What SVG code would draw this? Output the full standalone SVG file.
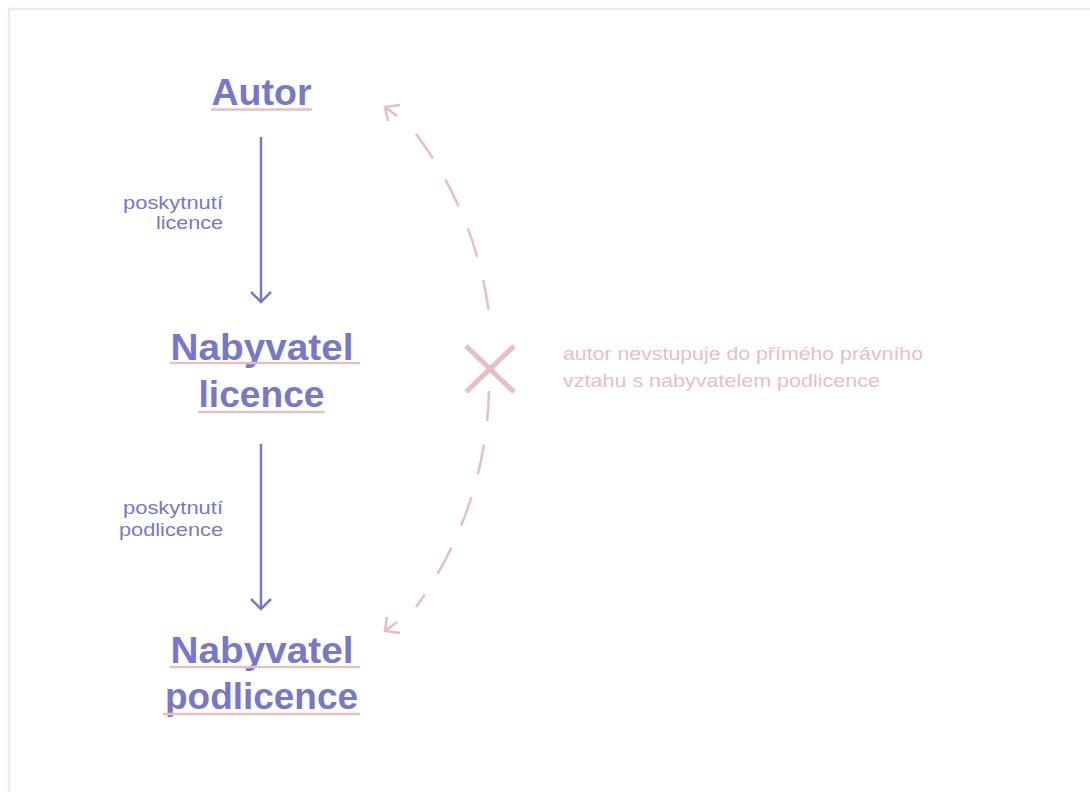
<svg xmlns="http://www.w3.org/2000/svg" width="1090" height="792" viewBox="0 0 1090 792">
<defs>
<style>
.title{font-family:"Liberation Sans",Arial,sans-serif;font-weight:bold;font-size:36px;fill:#7878c6;text-anchor:middle}
.lbl{font-family:"Liberation Sans",Arial,sans-serif;font-size:18.5px;fill:#7878c6;text-anchor:end}
.note{font-family:"Liberation Sans",Arial,sans-serif;font-size:18.5px;fill:#e6c0c4}
.ul{stroke:#e4bfc3;stroke-width:2.5;fill:none}
.conn{stroke:#7878c6;stroke-width:2.5;fill:none}
.dash{stroke:#e4bfc3;stroke-width:2.5;fill:none;stroke-dasharray:30 24}
.head{stroke:#e4bfc3;stroke-width:2.5;fill:none}
</style>
</defs>
<rect width="1090" height="792" fill="#ffffff"/>
<path d="M9 800 V9 H1100" stroke="#ebe9f8" stroke-width="2.5" fill="none"/>

<g id="autor">
<text class="title" x="261.5" y="105" textLength="100" lengthAdjust="spacingAndGlyphs">Autor</text>
<line class="ul" x1="211" y1="109.5" x2="312" y2="109.5"/>
</g>

<g id="nabyvatel-licence">
<text class="title" x="262" y="360" textLength="183" lengthAdjust="spacingAndGlyphs">Nabyvatel</text>
<line class="ul" x1="170" y1="363" x2="360" y2="363"/>
<text class="title" x="261.5" y="407" textLength="126" lengthAdjust="spacingAndGlyphs">licence</text>
<line class="ul" x1="198" y1="412" x2="325" y2="412"/>
</g>

<g id="nabyvatel-podlicence">
<text class="title" x="262" y="663" textLength="183" lengthAdjust="spacingAndGlyphs">Nabyvatel</text>
<line class="ul" x1="170" y1="667" x2="360" y2="667"/>
<text class="title" x="261.5" y="709" textLength="193" lengthAdjust="spacingAndGlyphs">podlicence</text>
<line class="ul" x1="163" y1="714" x2="360" y2="714"/>
</g>

<g id="connectors">
<line class="conn" x1="261" y1="137" x2="261" y2="302"/>
<polyline class="conn" points="251,292 261,302 271,292"/>
<line class="conn" x1="261" y1="444" x2="261" y2="609"/>
<polyline class="conn" points="251,599 261,609 271,599"/>
<text class="lbl" x="223" y="209" textLength="100" lengthAdjust="spacingAndGlyphs">poskytnutí</text>
<text class="lbl" x="223" y="229" textLength="67" lengthAdjust="spacingAndGlyphs">licence</text>
<text class="lbl" x="223" y="514" textLength="100" lengthAdjust="spacingAndGlyphs">poskytnutí</text>
<text class="lbl" x="223" y="536" textLength="104" lengthAdjust="spacingAndGlyphs">podlicence</text>

<path class="dash" d="M416 134 A382 382 0 0 1 489 313"/>
<path class="dash" d="M489 391 A382 382 0 0 1 416 607"/>
<path class="head" d="M400 105 L385 107 L388 121 M385 107 L397 116"/>
<path class="head" d="M400 633 L385 631 L387 617 M385 631 L397 622"/>
<g id="cross">
<line x1="466" y1="346" x2="514" y2="392" stroke="#e4bfc3" stroke-width="5"/>
<line x1="514" y1="346" x2="466" y2="392" stroke="#e4bfc3" stroke-width="5"/>
</g>
</g>

<g id="note">
<text class="note" x="563" y="360" textLength="360" lengthAdjust="spacingAndGlyphs">autor nevstupuje do přímého právního</text>
<text class="note" x="563" y="387" textLength="317" lengthAdjust="spacingAndGlyphs">vztahu s nabyvatelem podlicence</text>
</g>
</svg>
